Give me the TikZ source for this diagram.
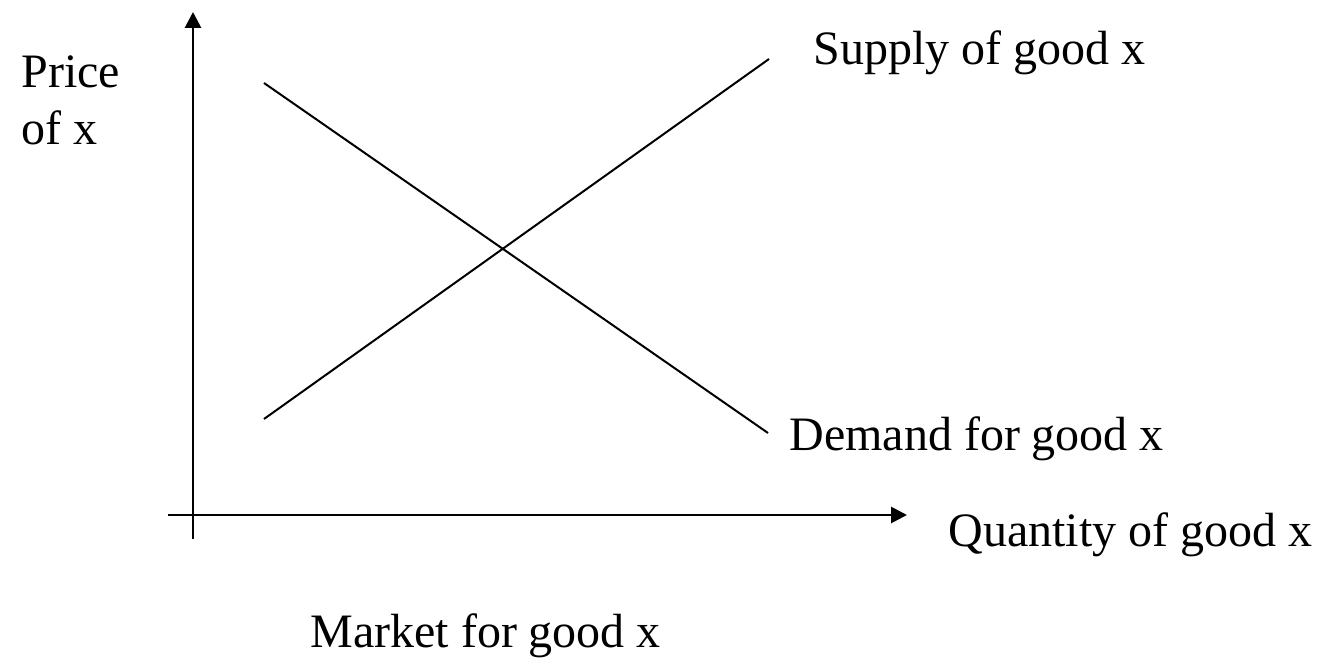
\documentclass[tikz,border=0pt]{standalone}
\usepackage{fontspec}
\setmainfont{Liberation Serif}
\usetikzlibrary{arrows.meta}

\begin{document}
\begin{tikzpicture}[
    x=0.5pt, y=-0.5pt,
    axis/.style={line width=1.4pt, -{Triangle[length=8pt, width=8pt]}},
    curve/.style={line width=1pt},
    txt/.style={anchor=base west, inner sep=0pt, align=left,
                font=\fontsize{24}{28.5}\selectfont}
]
\useasboundingbox (0,0) rectangle (1329,658);

% axes
\coordinate (xstart) at (168,515);
\coordinate (xend) at (907,515);
\coordinate (ystart) at (193,539);
\coordinate (yend) at (193,12);
\draw[axis] (xstart) -- (xend);
\draw[axis] (ystart) -- (yend);

% demand and supply
\coordinate (dtop) at (264,83);
\coordinate (dbot) at (768,433);
\coordinate (sbot) at (264,419);
\coordinate (stop) at (769,59);
\draw[curve] (dtop) -- (dbot);
\draw[curve] (sbot) -- (stop);

% labels
\node[txt] (price) at (21,145) {Price\\of x};
\node[txt] (supply) at (813,65) {Supply of good x};
\node[txt] (demand) at (789,450) {Demand for good x};
\node[txt] (qty) at (948,546) {Quantity of good x};
\node[txt] (market) at (310,647) {Market for good x};
\end{tikzpicture}
\end{document}
